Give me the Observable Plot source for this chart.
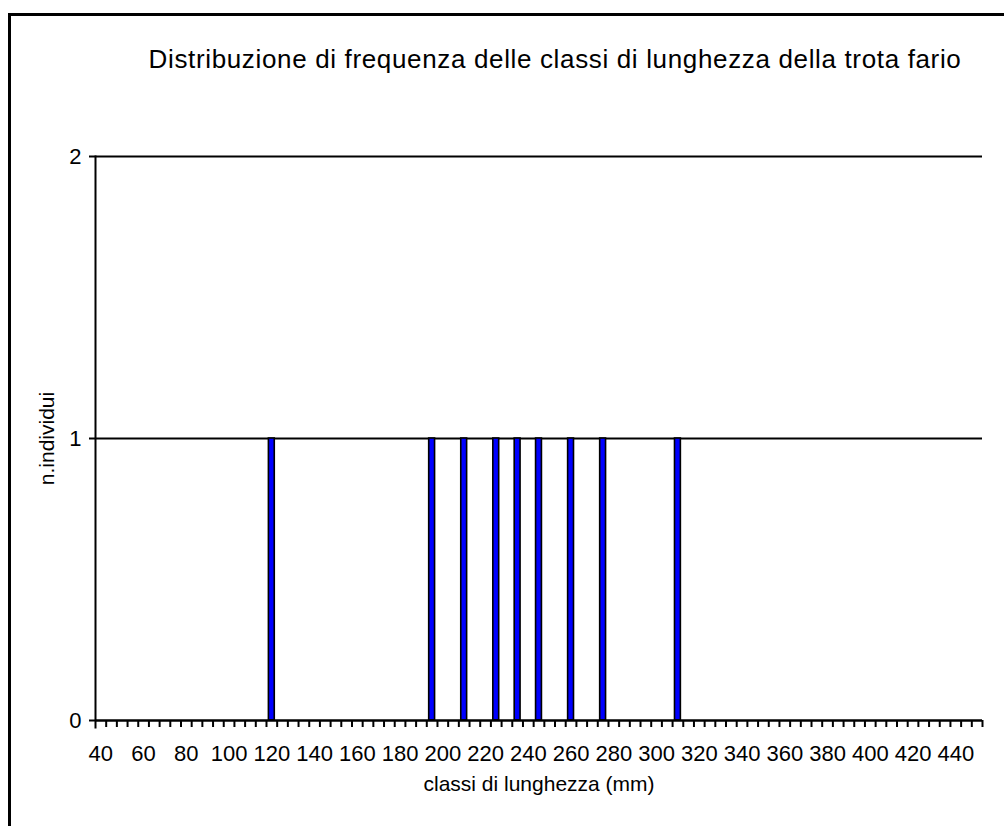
<!DOCTYPE html>
<html>
<head>
<meta charset="utf-8">
<script src="https://cdn.jsdelivr.net/npm/d3@7"></script>
<script src="https://cdn.jsdelivr.net/npm/@observablehq/plot@0.6"></script>
<style>
  html, body { margin:0; padding:0; background:#fff; overflow:hidden; width:1004px; height:826px; }
  #wrap { position:relative; width:1004px; height:826px; font-family:"Liberation Sans", Arial, sans-serif; color:#000; }
  #border { position:absolute; left:8px; top:13px; width:1200px; height:1000px; border:3px solid #000; box-sizing:border-box; }
  #title { position:absolute; left:555px; top:46px; transform:translateX(-50%); white-space:nowrap; font-size:26px; line-height:26px; letter-spacing:0.65px; }
  #chart { position:absolute; left:0; top:0; }
</style>
</head>
<body>
<div id="wrap">
  <div id="border"></div>
  <div id="title">Distribuzione di frequenza delle classi di lunghezza della trota fario</div>
  <div id="chart"></div>
</div>
<script>
// Length classes (mm) — category axis
const classes = [
  40, 45, 50, 55, 60, 65, 70, 75, 80, 85,
  90, 95, 100, 105, 110, 115, 120, 125, 130, 135,
  140, 145, 150, 155, 160, 165, 170, 175, 180, 185,
  190, 195, 200, 205, 210, 215, 220, 225, 230, 235,
  240, 245, 250, 255, 260, 265, 270, 275, 280, 285,
  290, 295, 300, 305, 310, 315, 320, 325, 330, 335,
  340, 345, 350, 355, 360, 365, 370, 375, 380, 385,
  390, 395, 400, 405, 410, 415, 420, 425, 430, 435,
  440, 445, 450
];
// Number of individuals per class
const counts = [
  0, 0, 0, 0, 0, 0, 0, 0, 0, 0,
  0, 0, 0, 0, 0, 0, 1, 0, 0, 0,
  0, 0, 0, 0, 0, 0, 0, 0, 0, 0,
  0, 1, 0, 0, 1, 0, 0, 1, 0, 1,
  0, 1, 0, 0, 1, 0, 0, 1, 0, 0,
  0, 0, 0, 0, 1, 0, 0, 0, 0, 0,
  0, 0, 0, 0, 0, 0, 0, 0, 0, 0,
  0, 0, 0, 0, 0, 0, 0, 0, 0, 0,
  0, 0, 0
];
// Labelled ticks on the x axis
const xLabelTicks = [40, 60, 80, 100, 120, 140, 160, 180, 200, 220, 240, 260, 280, 300, 320, 340, 360, 380, 400, 420, 440];
const yTicks = [0, 1, 2];
const xTitle = "classi di lunghezza (mm)";
const yTitle = "n.individui";

const data = classes.map((c, i) => ({classe: c, n: counts[i]}));

const chart = Plot.plot({
  width: 1004,
  height: 826,
  marginLeft: 95,
  marginRight: 22,
  marginTop: 156,
  marginBottom: 106,
  style: {fontFamily: "'Liberation Sans', Arial, sans-serif", fontSize: "21px", color: "#000", background: "transparent", overflow: "visible"},
  x: {type: "band", domain: classes, paddingInner: 0.45, paddingOuter: 0.225, axis: null},
  y: {domain: [0, 2], axis: null},
  marks: [
    Plot.ruleY([1, 2], {stroke: "#000", strokeWidth: 2}),
    Plot.barY(data, {filter: d => d.n > 0, x: "classe", y: "n", fill: "#0000ff", stroke: "#000", strokeWidth: 1.6}),
    Plot.ruleY([0], {stroke: "#000", strokeWidth: 2.5}),
    Plot.frame({anchor: "left", stroke: "#000", strokeWidth: 2, insetBottom: -7}),
    Plot.axisX(classes, {label: null, tickSize: 7, tickFormat: () => "", strokeWidth: 2, dx: 5.34, stroke: "#000"}),
    Plot.axisX(xLabelTicks, {label: null, tickSize: 0, tickPadding: 25, fontSize: 22, fill: "#000"}),
    Plot.axisY(yTicks, {label: null, tickSize: 6, tickPadding: 8, strokeWidth: 2, fontSize: 22, tickFormat: d => String(d), stroke: "#000", fill: "#000"}),
    Plot.text([xTitle], {frameAnchor: "bottom", dy: 70, fontSize: 21, fill: "#000"}),
    Plot.text([yTitle], {frameAnchor: "left", textAnchor: "middle", dx: -48, rotate: -90, fontSize: 21, fill: "#000"})
  ]
});
document.getElementById("chart").appendChild(chart);
</script>
</body>
</html>
